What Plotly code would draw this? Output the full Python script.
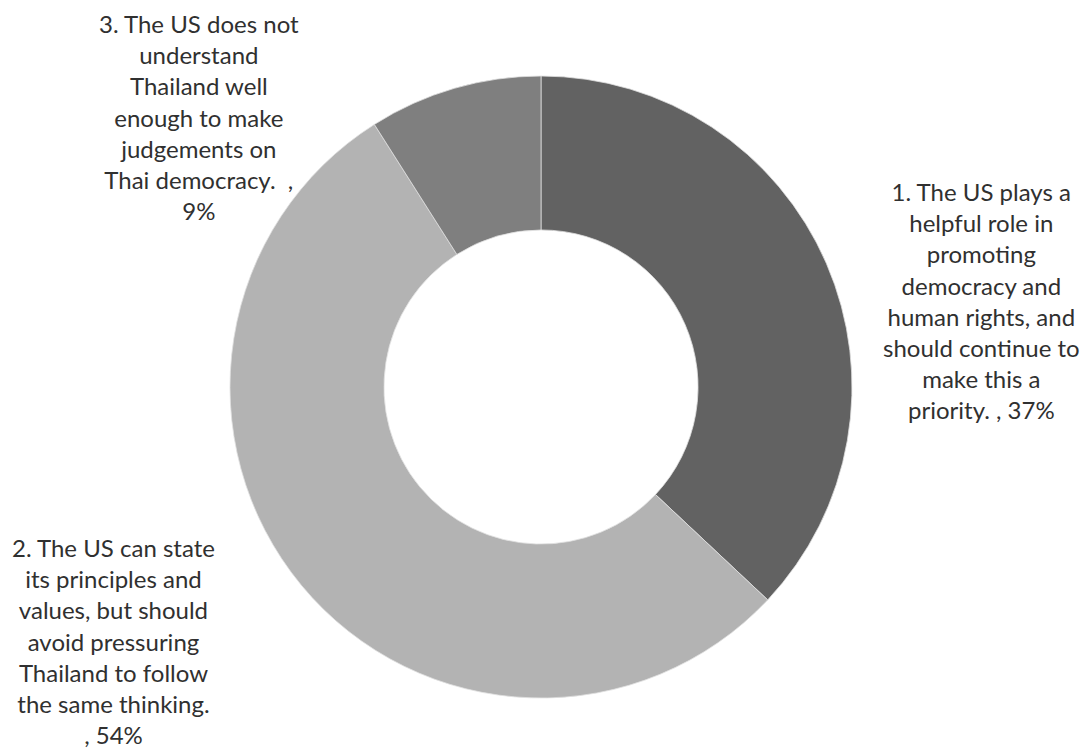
import plotly.graph_objects as go

categories = [
    "1. The US plays a helpful role in promoting democracy and human rights, and should continue to make this a priority.",
    "2. The US can state its principles and values, but should avoid pressuring Thailand to follow the same thinking.",
    "3. The US does not understand Thailand well enough to make judgements on Thai democracy. ",
]
values = [37, 54, 9]
label_lines = [
    ["1. The US plays a", "helpful role in", "promoting", "democracy and", "human rights, and",
     "should continue to", "make this a", "priority. , 37%"],
    ["2. The US can state", "its principles and", "values, but should", "avoid pressuring",
     "Thailand to follow", "the same thinking.", ", 54%"],
    ["3. The US does not", "understand", "Thailand well", "enough to make", "judgements on",
     "Thai democracy.  ,", "9%"],
]
colors = ["#626262", "#b3b3b3", "#7f7f7f"]

W, H = 1089, 753
fig = go.Figure(go.Pie(
    labels=categories, values=values, hole=0.505, sort=False,
    direction="clockwise", rotation=0,
    marker=dict(colors=colors, line=dict(color="#e0e0e0", width=0.8)),
    textinfo="none", hoverinfo="label+percent", showlegend=False,
    domain=dict(x=[230 / W, 852 / W], y=[1 - 698 / H, 1 - 76 / H]),
))

# label centres (pixels)
label_pos = [(981, 300), (113, 641), (199, 117)]
for lines, (cx, cy) in zip(label_lines, label_pos):
    fig.add_annotation(
        text="<br>".join(lines), x=cx / W, y=1 - cy / H, xref="paper", yref="paper",
        xanchor="center", yanchor="middle", showarrow=False, align="center",
        font=dict(family="Lato", size=24, color="#303030"),
    )

fig.update_layout(
    width=W, height=H, margin=dict(l=0, r=0, t=0, b=0),
    paper_bgcolor="white", plot_bgcolor="white",
)
fig.write_html("out.html")
